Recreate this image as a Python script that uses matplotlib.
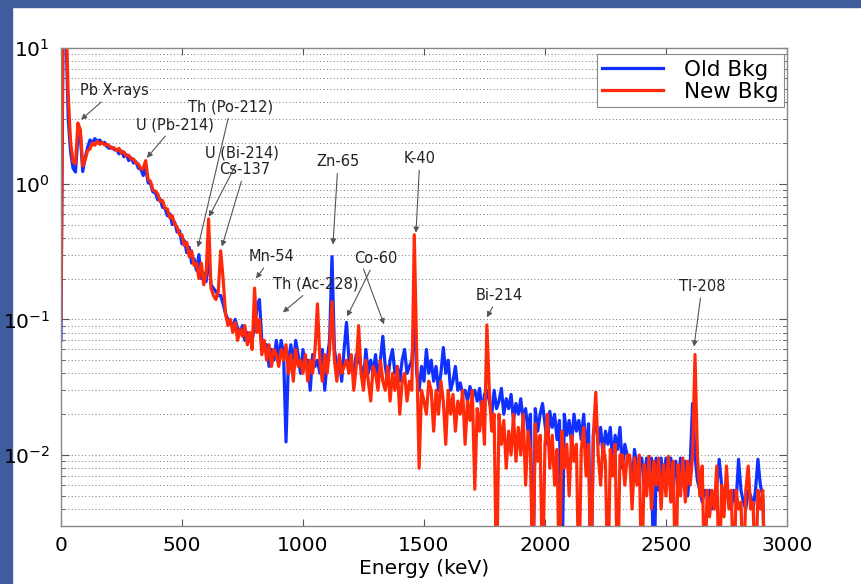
import numpy as np
import matplotlib
matplotlib.use("Agg")
import matplotlib.pyplot as plt
from matplotlib.patches import Rectangle
from matplotlib.ticker import LogLocator, NullFormatter, FixedLocator

plt.rcParams['font.family'] = ['DejaVu Sans']
plt.rcParams['mathtext.fontset'] = 'dejavusans'

# energy bins (keV), 10 keV wide
energy = np.arange(0, 2920, 10)

# new background (one row = 100 keV)
new_bkg = [
    0.10, 40, 20, 4.5, 2.0, 1.45, 1.4, 2.8, 2.5, 1.35,
    1.5, 1.75, 1.8, 2.0, 1.92, 2.05, 1.95, 2.02, 1.93, 1.95,
    1.9, 1.82, 1.84, 1.75, 1.82, 1.68, 1.72, 1.6, 1.62, 1.52,
    1.52, 1.42, 1.4, 1.28, 1.3, 1.48, 1.08, 1.04, 0.9, 0.88,
    0.84, 0.74, 0.75, 0.66, 0.65, 0.56, 0.58, 0.5, 0.48, 0.42,
    0.42, 0.35, 0.37, 0.29, 0.32, 0.25, 0.26, 0.2, 0.26, 0.18,
    0.22, 0.55, 0.17, 0.15, 0.14, 0.16, 0.32, 0.2, 0.11, 0.09,
    0.1, 0.08, 0.095, 0.07, 0.085, 0.075, 0.09, 0.065, 0.08, 0.06,
    0.17, 0.08, 0.1, 0.055, 0.07, 0.05, 0.065, 0.045, 0.06, 0.055,
    0.045, 0.06, 0.05, 0.065, 0.04, 0.055, 0.035, 0.06, 0.045, 0.05,
    0.04, 0.055, 0.035, 0.05, 0.04, 0.06, 0.13, 0.05, 0.035, 0.055,
    0.04, 0.06, 0.135, 0.05, 0.035, 0.055, 0.04, 0.045, 0.05, 0.04,
    0.055, 0.03, 0.045, 0.09, 0.04, 0.03, 0.05, 0.035, 0.025, 0.045,
    0.04, 0.03, 0.05, 0.035, 0.03, 0.045, 0.025, 0.04, 0.03, 0.045,
    0.02, 0.035, 0.04, 0.025, 0.035, 0.03, 0.42, 0.06, 0.008, 0.03,
    0.025, 0.02, 0.035, 0.03, 0.015, 0.03, 0.02, 0.035, 0.025, 0.012,
    0.03, 0.02, 0.028, 0.015, 0.025, 0.02, 0.03, 0.012, 0.025, 0.018,
    0.03, 0.0056, 0.022, 0.015, 0.025, 0.012, 0.091, 0.03, 0.015, 0.02,
    0.001, 0.02, 0.012, 0.018, 0.008, 0.015, 0.01, 0.02, 0.009, 0.016,
    0.01, 0.02, 0.006, 0.015, 0.011, 0.001, 0.017, 0.009, 0.014, 0.001,
    0.012, 0.02, 0.008, 0.014, 0.006, 0.011, 0.001, 0.015, 0.008, 0.012,
    0.005, 0.014, 0.009, 0.012, 0.001, 0.011, 0.016, 0.007, 0.012, 0.001,
    0.014, 0.029, 0.01, 0.006, 0.012, 0.009, 0.001, 0.011, 0.007, 0.012,
    0.001, 0.01, 0.01, 0.006, 0.01, 0.01, 0.004, 0.0095, 0.006, 0.01,
    0.001, 0.0085, 0.005, 0.0098, 0.004, 0.009, 0.006, 0.0095, 0.004, 0.0085,
    0.005, 0.0098, 0.0045, 0.009, 0.001, 0.0085, 0.005, 0.0095, 0.0045, 0.009,
    0.006, 0.0098, 0.055, 0.01, 0.005, 0.0083, 0.001, 0.0055, 0.0035, 0.0055,
    0.004, 0.0083, 0.001, 0.006, 0.0035, 0.0083, 0.004, 0.0055, 0.001, 0.0055,
    0.004, 0.0045, 0.001, 0.0055, 0.0083, 0.004, 0.0045, 0.001, 0.0055, 0.004,
    0.0055, 0.001,
]

# old background
old_bkg = [
    0.07, 40, 15, 3.0, 1.7, 1.3, 1.22, 2.2, 2.3, 1.23,
    1.55, 1.85, 2.1, 2.0, 2.15, 2.05, 2.1, 1.98, 2.02, 1.88,
    1.82, 1.86, 1.78, 1.78, 1.66, 1.74, 1.58, 1.64, 1.48, 1.55,
    1.42, 1.45, 1.3, 1.28, 1.15, 1.32, 1.02, 1.0, 0.87, 0.86,
    0.76, 0.77, 0.67, 0.66, 0.58, 0.6, 0.5, 0.52, 0.44, 0.45,
    0.36, 0.38, 0.31, 0.34, 0.26, 0.28, 0.23, 0.3, 0.2, 0.22,
    0.19, 0.3, 0.18, 0.17, 0.16, 0.15, 0.15, 0.13, 0.11, 0.1,
    0.095, 0.09, 0.1, 0.085, 0.08, 0.09, 0.07, 0.08, 0.075, 0.07,
    0.09, 0.12, 0.14, 0.07, 0.06, 0.065, 0.045, 0.06, 0.05, 0.07,
    0.05, 0.07, 0.055, 0.0125, 0.05, 0.065, 0.045, 0.07, 0.055, 0.04,
    0.06, 0.045, 0.05, 0.03, 0.055, 0.045, 0.05, 0.04, 0.06, 0.03,
    0.05, 0.07, 0.29, 0.06, 0.045, 0.05, 0.035, 0.06, 0.095, 0.05,
    0.045, 0.04, 0.055, 0.05, 0.045, 0.035, 0.06, 0.04, 0.05, 0.04,
    0.055, 0.035, 0.05, 0.075, 0.045, 0.035, 0.05, 0.06, 0.04, 0.045,
    0.035, 0.05, 0.06, 0.04, 0.045, 0.05, 0.1, 0.04, 0.03, 0.045,
    0.035, 0.06, 0.04, 0.05, 0.035, 0.045, 0.03, 0.04, 0.062, 0.04,
    0.05, 0.03, 0.035, 0.045, 0.03, 0.034, 0.028, 0.03, 0.025, 0.032,
    0.027, 0.03, 0.025, 0.031, 0.02, 0.028, 0.03, 0.025, 0.02, 0.03,
    0.022, 0.025, 0.031, 0.02, 0.026, 0.022, 0.028, 0.018, 0.024, 0.02,
    0.026, 0.018, 0.022, 0.015, 0.02, 0.001, 0.022, 0.015, 0.02, 0.024,
    0.017, 0.012, 0.021, 0.016, 0.02, 0.013, 0.018, 0.001, 0.02, 0.014,
    0.018, 0.012, 0.02, 0.015, 0.018, 0.013, 0.02, 0.01, 0.017, 0.001,
    0.014, 0.019, 0.012, 0.016, 0.01, 0.015, 0.012, 0.016, 0.009, 0.014,
    0.011, 0.016, 0.008, 0.012, 0.01, 0.0095, 0.006, 0.011, 0.008, 0.0095,
    0.0095, 0.006, 0.0095, 0.007, 0.0095, 0.001, 0.0095, 0.0055, 0.0095, 0.006,
    0.0095, 0.007, 0.0095, 0.0065, 0.009, 0.005, 0.0095, 0.006, 0.009, 0.005,
    0.0085, 0.024, 0.01, 0.0065, 0.0055, 0.0045, 0.0055, 0.005, 0.0055, 0.004,
    0.005, 0.006, 0.0093, 0.006, 0.0045, 0.0055, 0.005, 0.004, 0.0055, 0.0045,
    0.0093, 0.0055, 0.0045, 0.004, 0.0055, 0.005, 0.004, 0.0055, 0.0093, 0.006,
    0.005, 0.001,
]

x_ticks = [0, 500, 1000, 1500, 2000, 2500, 3000]
y_ticks = [1e-2, 1e-1, 1e0, 1e1]
y_tick_labels = [r'$10^{-2}$', r'$10^{-1}$', r'$10^{0}$', r'$10^{1}$']

fig = plt.figure(figsize=(8.61, 5.84), dpi=100)
fig.patch.set_facecolor('white')

# slide background strips
fig.add_artist(Rectangle((0, 0.988), 1, 0.012, transform=fig.transFigure,
                         color='#3f5d9c', zorder=0))
fig.add_artist(Rectangle((0, 0), 0.014, 1, transform=fig.transFigure,
                         color='#3f5d9c', zorder=0))

ax = fig.add_axes([0.0708, 0.0993, 0.8432, 0.8185])

ax.plot(energy, old_bkg, color='#1030ff', linewidth=2.3, label='Old Bkg')
ax.plot(energy, new_bkg, color='#ff2a0a', linewidth=2.3, label='New Bkg')

ax.set_yscale('log')
ax.set_xlim(0, 3000)
ax.set_ylim(3e-3, 10)

ax.xaxis.set_major_locator(FixedLocator(x_ticks))
ax.set_xticklabels([str(t) for t in x_ticks])
ax.yaxis.set_major_locator(FixedLocator(y_ticks))
ax.set_yticklabels(y_tick_labels)
ax.yaxis.set_minor_locator(LogLocator(base=10, subs=np.arange(2, 10)))
ax.yaxis.set_minor_formatter(NullFormatter())

ax.tick_params(axis='both', which='both', direction='in', top=True, right=True,
               color='#555555')
ax.tick_params(axis='x', which='major', length=5, pad=7, labelsize=14.5)
ax.tick_params(axis='y', which='major', length=6, pad=8, labelsize=14.5)
ax.tick_params(axis='y', which='minor', length=3)

ax.grid(True, axis='y', which='both', linestyle=(0, (1, 2.5)),
        color='#777777', linewidth=0.7)

for s in ax.spines.values():
    s.set_color('#888888')
    s.set_linewidth(1.0)

ax.set_xlabel('Energy (keV)', fontsize=14.5, labelpad=3)

leg = ax.legend(loc='upper right', bbox_to_anchor=(0.996, 0.987),
                fontsize=15.5, handlelength=2.8, labelspacing=0.1,
                handletextpad=1.0, fancybox=False, framealpha=1,
                edgecolor='#888888', borderaxespad=0, borderpad=0.25)
leg.get_frame().set_linewidth(0.8)

arrow = dict(arrowstyle='-|>', color='#555555', lw=0.8,
             mutation_scale=8, shrinkA=1, shrinkB=0)

labels = [
    ('Pb X-rays', (219, 4.83), (83, 2.96)),
    ('U (Pb-214)', (471, 2.72), (355, 1.55)),
    ('Th (Po-212)', (702, 3.68), (566, 0.339)),
    ('U (Bi-214)', (748, 1.69), (612, 0.571)),
    ('Cs-137', (760, 1.27), (665, 0.344)),
    ('Zn-65', (1145, 1.45), (1124, 0.356)),
    ('K-40', (1483, 1.53), (1467, 0.435)),
    ('Mn-54', (872, 0.29), (806, 0.2)),
    ('Th (Ac-228)', (1054, 0.181), (917, 0.1125)),
    ('Co-60', (1302, 0.281), (1182, 0.105)),
    ('Bi-214', (1810, 0.15), (1760, 0.1035)),
    ('Tl-208', (2649, 0.175), (2616, 0.063)),
]
for txt, pos, tip in labels:
    ax.annotate(txt, xy=tip, xytext=pos, ha='center', va='center',
                fontsize=10.5, color='#222222', arrowprops=arrow)
# second Co-60 line
ax.annotate('', xy=(1335, 0.092), xytext=(1248, 0.241), arrowprops=arrow)

plt.savefig('out.png', dpi=100)
